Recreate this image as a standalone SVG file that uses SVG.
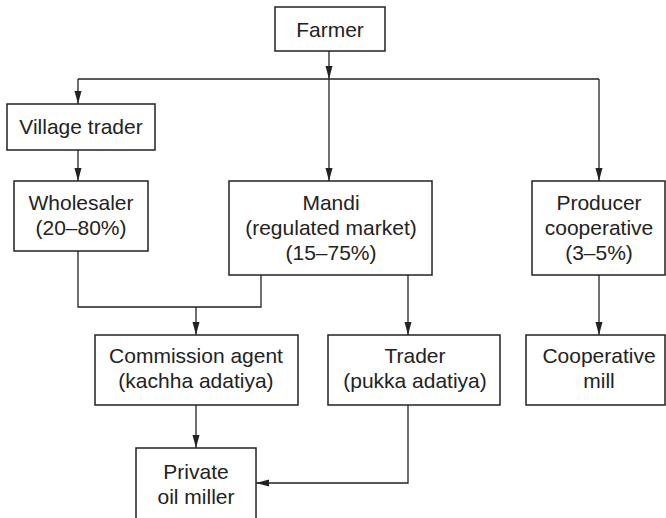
<svg xmlns="http://www.w3.org/2000/svg" width="666" height="518" viewBox="0 0 666 518">
<style>
.box{fill:#fff;stroke:#222;stroke-width:1.5}
.t{font-family:"Liberation Sans",Arial,sans-serif;font-size:21px;fill:#222;text-anchor:middle}
.c{fill:none;stroke:#222;stroke-width:1.3}
</style>
<defs>
<marker id="ah" markerUnits="userSpaceOnUse" markerWidth="14" markerHeight="8" refX="13" refY="3.5" orient="auto">
<path d="M0,0 L13,3.5 L0,7 z" fill="#222"/>
</marker>
</defs>
<rect width="666" height="518" fill="#fff"/>
<g id="connectors">
<line class="c" x1="329" y1="51" x2="329" y2="79" marker-end="url(#ah)"/>
<line class="c" x1="78" y1="79" x2="599" y2="79"/>
<line class="c" x1="78" y1="79" x2="78" y2="104" marker-end="url(#ah)"/>
<line class="c" x1="329" y1="79" x2="329" y2="181" marker-end="url(#ah)"/>
<line class="c" x1="599" y1="79" x2="599" y2="181" marker-end="url(#ah)"/>
<line class="c" x1="78" y1="150" x2="78" y2="181" marker-end="url(#ah)"/>
<polyline class="c" points="78,251 78,307 261,307 261,275"/>
<line class="c" x1="196" y1="307" x2="196" y2="335" marker-end="url(#ah)"/>
<line class="c" x1="408" y1="275" x2="408" y2="335" marker-end="url(#ah)"/>
<line class="c" x1="599" y1="275" x2="599" y2="335" marker-end="url(#ah)"/>
<line class="c" x1="196" y1="405" x2="196" y2="448" marker-end="url(#ah)"/>
<polyline class="c" points="408,405 408,483 256,483" marker-end="url(#ah)"/>
</g>
<g id="farmer">
<rect class="box" x="275" y="7" width="110" height="44"/>
<text class="t" x="330" y="37">Farmer</text>
</g>
<g id="village-trader">
<rect class="box" x="7" y="104" width="148" height="46"/>
<text class="t" x="81" y="134">Village trader</text>
</g>
<g id="wholesaler">
<rect class="box" x="14" y="181" width="134" height="70"/>
<text class="t" x="81" y="210">Wholesaler</text>
<text class="t" x="81" y="235">(20–80%)</text>
</g>
<g id="mandi">
<rect class="box" x="229" y="181" width="203" height="94"/>
<text class="t" x="331" y="210">Mandi</text>
<text class="t" x="331" y="235">(regulated market)</text>
<text class="t" x="331" y="260">(15–75%)</text>
</g>
<g id="producer-cooperative">
<rect class="box" x="532" y="181" width="133" height="94"/>
<text class="t" x="599" y="210">Producer</text>
<text class="t" x="599" y="235">cooperative</text>
<text class="t" x="599" y="260">(3–5%)</text>
</g>
<g id="commission-agent">
<rect class="box" x="95" y="335" width="203" height="70"/>
<text class="t" x="196" y="363">Commission agent</text>
<text class="t" x="196" y="388">(kachha adatiya)</text>
</g>
<g id="trader">
<rect class="box" x="328" y="335" width="172" height="70"/>
<text class="t" x="415" y="363">Trader</text>
<text class="t" x="415" y="388">(pukka adatiya)</text>
</g>
<g id="cooperative-mill">
<rect class="box" x="526" y="335" width="139" height="70"/>
<text class="t" x="599" y="363">Cooperative</text>
<text class="t" x="599" y="388">mill</text>
</g>
<g id="private-oil-miller">
<rect class="box" x="136" y="448" width="120" height="80"/>
<text class="t" x="196" y="479">Private</text>
<text class="t" x="196" y="504">oil miller</text>
</g>
</svg>
